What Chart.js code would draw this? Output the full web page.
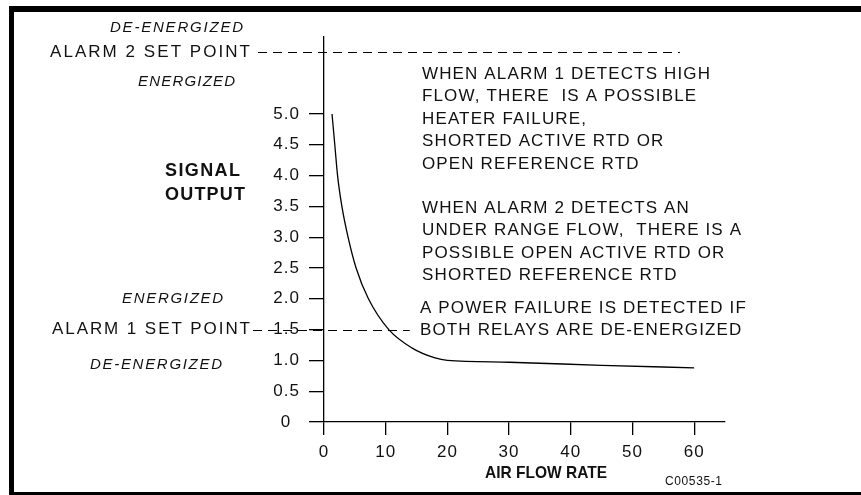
<!DOCTYPE html>
<html>
<head>
<meta charset="utf-8">
<script src="https://cdn.jsdelivr.net/npm/chart.js@4.4.1/dist/chart.umd.min.js"></script>
<style>
  html, body { margin: 0; padding: 0; background: #fff; }
</style>
</head>
<body>
<canvas id="chart" width="861" height="495"></canvas>
<script>
// curve
const flowRate = [1.3, 1.75, 2.2, 2.9, 3.9, 5.2, 7.2, 10.5, 14.3, 18, 20, 30, 45, 60];
const signalOutput = [5.0, 4.5, 4.0, 3.5, 3.0, 2.5, 2.0, 1.5, 1.2, 1.04, 1.0, 0.97, 0.92, 0.88];

// alarm set points (alarm 1, alarm 2) and where their dashed lines stop on the x axis
const alarmLevels = [1.5, 6.0];
const alarmLineEnds = [13.9, 57.7];

const yTickMax = 5.0;
const xTickMax = 60;

const noteBlocks = [
    ['WHEN ALARM 1 DETECTS HIGH', 'FLOW, THERE  IS A POSSIBLE', 'HEATER FAILURE,', 'SHORTED ACTIVE RTD OR', 'OPEN REFERENCE RTD'],
    ['WHEN ALARM 2 DETECTS AN', 'UNDER RANGE FLOW,  THERE IS A', 'POSSIBLE OPEN ACTIVE RTD OR', 'SHORTED REFERENCE RTD'],
    ['A POWER FAILURE IS DETECTED IF', 'BOTH RELAYS ARE DE-ENERGIZED']
];

const FONT = "'Liberation Sans', Arial, Helvetica, sans-serif";

// draws text starting at x, stretched by letter spacing to a given width
function fitText(ctx, text, x, y, font, width) {
    ctx.font = font;
    ctx.letterSpacing = '0px';
    const w = ctx.measureText(text).width;
    ctx.textAlign = 'left';
    ctx.textBaseline = 'middle';
    if (w > width) {
        ctx.save();
        ctx.translate(x, y);
        ctx.scale(width / w, 1);
        ctx.fillText(text, 0, 0);
        ctx.restore();
        return;
    }
    ctx.letterSpacing = ((width - w) / (text.length - 1)) + 'px';
    ctx.fillText(text, x, y);
    ctx.letterSpacing = '0px';
}

function spacingFor(ctx, text, font, width) {
    ctx.font = font;
    ctx.letterSpacing = '0px';
    return Math.max(0, (width - ctx.measureText(text).width) / (text.length - 1));
}

const tickSpacing = {
    id: 'tickSpacing',
    beforeLayout(chart) { chart.ctx.letterSpacing = '1px'; },
    beforeDraw(chart) { chart.ctx.letterSpacing = '1px'; }
};

const decorations = {
    id: 'decorations',
    afterDraw(chart) {
        const ctx = chart.ctx;
        const xs = chart.scales.x;
        const ys = chart.scales.y;
        ctx.save();
        ctx.fillStyle = '#000';
        ctx.strokeStyle = '#000';

        // frame
        ctx.fillRect(9, 6, 852, 6);
        ctx.fillRect(9, 6, 5, 489);
        ctx.fillRect(9, 492, 852, 3);

        // alarm set point lines
        ctx.lineWidth = 1.2;
        ctx.setLineDash([9, 6]);
        const starts = [253, 258];
        alarmLevels.forEach(function(level, i) {
            const y = Math.round(ys.getPixelForValue(level)) + 0.5;
            ctx.beginPath();
            ctx.moveTo(starts[i], y);
            ctx.lineTo(xs.getPixelForValue(alarmLineEnds[i]), y);
            ctx.stroke();
        });
        ctx.setLineDash([]);

        ctx.fillStyle = '#111';
        const reg = '17px ' + FONT;
        const ital = 'italic 15px ' + FONT;
        const bold = 'bold 18px ' + FONT;

        fitText(ctx, 'DE-ENERGIZED', 110, 28, ital, 133);
        fitText(ctx, 'ALARM 2 SET POINT', 50, 52, reg, 200);
        fitText(ctx, 'ENERGIZED', 138, 82, ital, 97);

        fitText(ctx, 'SIGNAL', 165, 171, bold, 75);
        fitText(ctx, 'OUTPUT', 165, 195, bold, 80);

        fitText(ctx, 'ENERGIZED', 122, 299, ital, 101);
        fitText(ctx, 'ALARM 1 SET POINT', 52, 329, reg, 198);
        fitText(ctx, 'DE-ENERGIZED', 90, 365, ital, 132);

        fitText(ctx, 'AIR FLOW RATE', 485, 473, 'bold 17px ' + FONT, 122);
        fitText(ctx, 'C00535-1', 665, 482, '12px ' + FONT, 57);

        // notes on the right
        const sp = spacingFor(ctx, noteBlocks[0][0], reg, 288);
        const blockTops = [74, 208, 308];
        const blockLeft = [422, 422, 420];
        ctx.font = reg;
        ctx.letterSpacing = sp + 'px';
        ctx.textAlign = 'left';
        ctx.textBaseline = 'middle';
        noteBlocks.forEach(function(lines, b) {
            lines.forEach(function(line, i) {
                ctx.fillText(line, blockLeft[b], blockTops[b] + i * 22.6);
            });
        });
        ctx.letterSpacing = '0px';
        ctx.restore();
    }
};

new Chart(document.getElementById('chart'), {
    type: 'line',
    data: {
        datasets: [{
            data: flowRate.map(function(x, i) { return { x: x, y: signalOutput[i] }; }),
            borderColor: '#000',
            borderWidth: 1.3,
            pointRadius: 0,
            fill: false,
            cubicInterpolationMode: 'monotone'
        }]
    },
    options: {
        responsive: false,
        animation: false,
        events: [],
        layout: { padding: { left: 264, right: 136, top: 37, bottom: 23 } },
        plugins: {
            legend: { display: false },
            tooltip: { enabled: false }
        },
        scales: {
            x: {
                type: 'linear',
                min: 0,
                max: 65,
                afterFit(scale) { scale.height = 50; },
                grid: { drawOnChartArea: false, color: '#000', lineWidth: 1.3, tickLength: 13 },
                border: { color: '#000', width: 1.3 },
                ticks: {
                    stepSize: 10,
                    color: '#111',
                    padding: 7,
                    maxRotation: 0,
                    font: { family: FONT, size: 17 },
                    callback: function(v) { return v <= xTickMax ? String(v) : null; }
                }
            },
            y: {
                min: 0,
                max: 6.25,
                afterFit(scale) { scale.width = 60; },
                grid: { drawOnChartArea: false, color: '#000', lineWidth: 1.3, tickLength: 15 },
                border: { color: '#000', width: 1.3 },
                ticks: {
                    stepSize: 0.5,
                    color: '#111',
                    padding: 9,
                    font: { family: FONT, size: 17 },
                    callback: function(v) {
                        if (v > yTickMax) return null;
                        return v === 0 ? '0\u2009\u2009' : v.toFixed(1);
                    }
                }
            }
        }
    },
    plugins: [tickSpacing, decorations]
});
</script>
</body>
</html>
